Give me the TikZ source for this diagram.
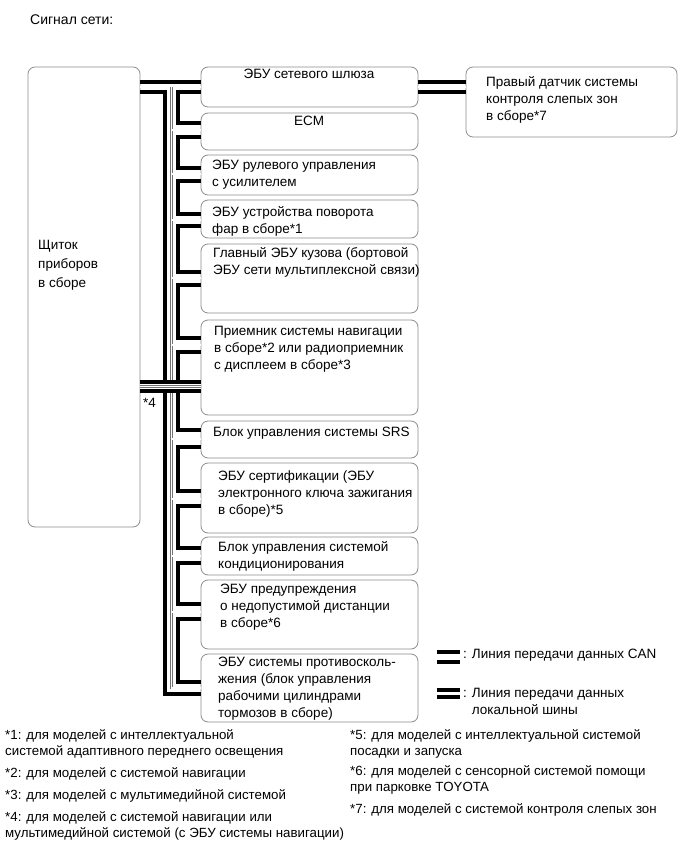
\documentclass[tikz,border=0pt]{standalone}
\usepackage{fontspec}
\setmainfont{Liberation Sans}
\newcommand\ml[1]{\begin{tabular}[t]{@{}l@{}}#1\end{tabular}}
\begin{document}
\begin{tikzpicture}[x=1pt,y=-1pt,
  ebox/.style={draw=black!45, line width=0.8pt, rounded corners=7pt, inner sep=0pt, minimum width=217pt},
  can/.style={line width=4pt, black, line join=miter},
  tln/.style={draw=black!55, line width=0.55pt, double=white, double distance=1.4pt},
  txt/.style={anchor=base west, inner sep=0pt, font=\fontsize{13.5}{17}\selectfont},
  fn/.style={anchor=base west, inner sep=0pt, font=\fontsize{13.3}{16}\selectfont}]
\useasboundingbox (0,0) rectangle (689,853);
% boxes
\node[ebox, minimum width=112pt, minimum height=460pt] (L) at (84,297) {};
\node[ebox, minimum width=211pt, minimum height=70pt] (R) at (571.5,102) {};
\node[ebox, minimum height=40pt] (b1) at (309.5,87) {};
\node[ebox, minimum height=37pt] (b2) at (309.5,131.5) {};
\node[ebox, minimum height=40pt] (b3) at (309.5,175) {};
\node[ebox, minimum height=38pt] (b4) at (309.5,219) {};
\node[ebox, minimum height=69pt] (b5) at (309.5,278.5) {};
\node[ebox, minimum height=95pt] (b6) at (309.5,367.5) {};
\node[ebox, minimum height=37pt] (b7) at (309.5,439.5) {};
\node[ebox, minimum height=70pt] (b8) at (309.5,498) {};
\node[ebox, minimum height=38pt] (b9) at (309.5,556) {};
\node[ebox, minimum height=69pt] (b10) at (309.5,614.5) {};
\node[ebox, minimum height=68pt] (b11) at (309.5,688) {};
% thin lines
\draw[tln] (L.east |- 0,87) -- (b1.west |- 0,87);
\draw[tln] (171.5,87) -- (171.5,688) -- (b11.west |- 0,688);
\foreach \n/\y in {b2/130,b3/174,b4/220,b5/278,b6/345,b7/439,b8/499,b9/556,b10/612}
  \draw[tln] (171.5,\y) -- (\n.west |- 0,\y);
\draw[tln] (b1.east |- 0,87) -- (R.west |- 0,87);
% thick lines
\draw[can] (L.east |- 0,82) -- (b1.west |- 0,82);
\draw[can] (L.east |- 0,92) -- (165,92) -- (165,694) -- (b11.west |- 0,694);
\draw[can] (b1.east |- 0,82) -- (R.west |- 0,82);
\draw[can] (b1.east |- 0,92) -- (R.west |- 0,92);
\foreach \a/\ya/\b/\yb in {b1/92/b2/123, b2/137/b3/168, b3/181/b4/214, b4/226/b5/272, b5/285/b6/338, b6/352/b7/430, b7/447/b8/491, b8/506/b9/548, b9/563/b10/604, b10/619/b11/682}
  \draw[can] (\a.west |- 0,\ya) -- (178,\ya) -- (178,\yb) -- (\b.west |- 0,\yb);
% *4 line
\draw[white, line width=13pt] (L.east |- 0,386.5) -- (b6.west |- 0,386.5);
\draw[tln] (L.east |- 0,386.5) -- (b6.west |- 0,386.5);
\draw[can] (L.east |- 0,382) -- (b6.west |- 0,382);
\draw[can] (L.east |- 0,391) -- (b6.west |- 0,391);
% legend
\coordinate (c1) at (437,652); \coordinate (c2) at (460,652);
\coordinate (c3) at (437,657); \coordinate (c4) at (460,657);
\coordinate (c5) at (437,662); \coordinate (c6) at (460,662);
\draw[line width=3.5pt] (c1) -- (c2);
\draw[tln] (c3) -- (c4);
\draw[line width=3.5pt] (c5) -- (c6);
\coordinate (d1) at (437,690); \coordinate (d2) at (460,690);
\coordinate (d3) at (437,697); \coordinate (d4) at (460,697);
\draw[line width=3.5pt] (d1) -- (d2);
\draw[line width=3.5pt] (d3) -- (d4);
% texts
\node[txt, font=\fontsize{14}{17}\selectfont] (title) at (30,25) {Сигнал сети:};
\node[txt, anchor=base] (t1) at (309,79) {ЭБУ сетевого шлюза};
\node[txt, anchor=base] (t2) at (309,126) {ECM};
\node[txt] (t3) at (212,170) {\ml{ЭБУ рулевого управления\\с усилителем}};
\node[txt] (t4) at (212,216) {\ml{ЭБУ устройства поворота\\фар в сборе*1}};
\node[txt] (t5) at (213,257) {\ml{Главный ЭБУ кузова (бортовой\\ЭБУ сети мультиплексной связи)}};
\node[txt] (t6) at (214,335) {\ml{Приемник системы навигации\\в сборе*2 или радиоприемник\\с дисплеем в сборе*3}};
\node[txt] (t7) at (213,436) {Блок управления системы SRS};
\node[txt] (t8) at (218,480) {\ml{ЭБУ сертификации (ЭБУ\\электронного ключа зажигания\\в сборе)*5}};
\node[txt] (t9) at (218,551) {\ml{Блок управления системой\\кондиционирования}};
\node[txt] (t10) at (220,593) {\ml{ЭБУ предупреждения\\о недопустимой дистанции\\в сборе*6}};
\node[txt] (t11) at (218,666) {\ml{ЭБУ системы противосколь-\\жения (блок управления\\рабочими цилиндрами\\тормозов в сборе)}};
\node[txt] (tR) at (486,87) {\ml{Правый датчик системы\\контроля слепых зон\\в сборе*7}};
\node[txt, font=\fontsize{13.5}{19}\selectfont] (tL) at (38,249) {\ml{Щиток\\приборов\\в сборе}};
\node[txt] (s4) at (143,407) {*4};
\node[txt] (lg1) at (463,658) {: Линия передачи данных CAN};
\node[txt] (lg2) at (463,697) {\ml{: Линия передачи данных\\\phantom{: }локальной шины}};
\node[fn] (f1) at (5,739) {\ml{*1: для моделей с интеллектуальной\\системой адаптивного переднего освещения}};
\node[fn] (f2) at (5,777) {*2: для моделей с системой навигации};
\node[fn] (f3) at (5,799) {*3: для моделей с мультимедийной системой};
\node[fn] (f4) at (5,821) {\ml{*4: для моделей с системой навигации или\\мультимедийной системой (с ЭБУ системы навигации)}};
\node[fn] (f5) at (350,739) {\ml{*5: для моделей с интеллектуальной системой\\посадки и запуска}};
\node[fn] (f6) at (350,775) {\ml{*6: для моделей с сенсорной системой помощи\\при парковке TOYOTA}};
\node[fn] (f7) at (350,813) {*7: для моделей с системой контроля слепых зон};
\end{tikzpicture}
\end{document}
